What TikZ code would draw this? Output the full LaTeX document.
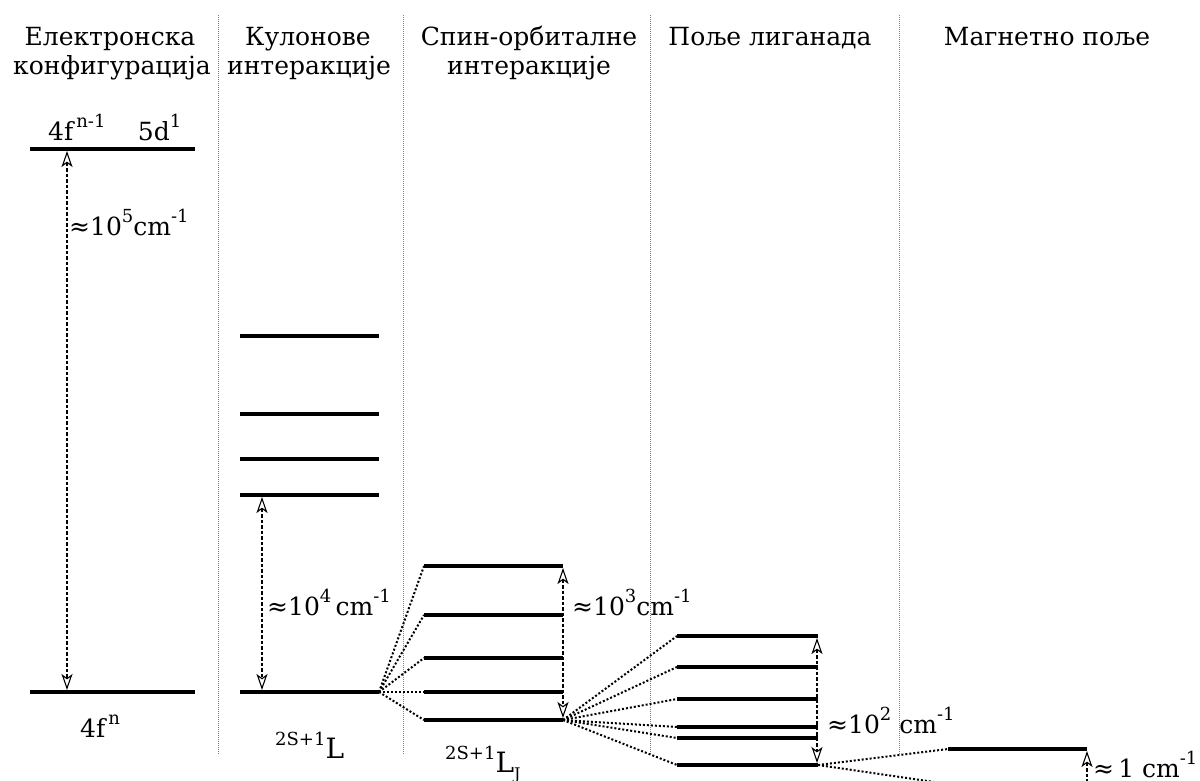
\documentclass[tikz,border=0pt]{standalone}
\usepackage{fontspec}
\setmainfont{DejaVu Serif}
\usetikzlibrary{arrows.meta}
\newcommand\su[1]{\raisebox{0.5em}{\fontsize{18}{18}\selectfont #1}}
\newcommand\lvl[4]{\coordinate (#1-l) at (#2,#4); \coordinate (#1-r) at (#3,#4); \draw[level] (#1-l) -- (#1-r);}
\tikzset{
  level/.style={line width=3.6pt},
  link/.style={line width=2pt, dash pattern=on 2pt off 2pt},
  sep/.style={gray, line width=0.7pt, dash pattern=on 1pt off 1pt},
  gap/.style={line width=1.6pt, dash pattern=on 3.5pt off 2pt,
    {Stealth[open,length=16pt,width=11pt,inset=4pt,line width=1.1pt]}-{Stealth[open,length=16pt,width=11pt,inset=4pt,line width=1.1pt]}},
  gapdown/.style={line width=1.6pt, dash pattern=on 3.5pt off 2pt,
    {Stealth[open,length=16pt,width=11pt,inset=4pt,line width=1.1pt]}-},
  head/.style={font=\fontsize{25}{29}\selectfont, align=center, inner sep=0pt},
  lab/.style={font=\fontsize{25}{25}\selectfont, inner sep=0pt, anchor=base west},
}
\begin{document}
\begin{tikzpicture}[x=1pt,y=-1pt]
\useasboundingbox (0,0) rectangle (1200,780);
\clip (0,0) rectangle (1200,780);
% separators
\foreach \n/\x in {s1/218,s2/403,s3/650,s4/899}{
  \coordinate (\n-t) at (\x,15); \coordinate (\n-b) at (\x,755);
  \draw[sep] (\n-t) -- (\n-b);}
% headers
\node[head, anchor=base] (h1a) at (110,45) {Електронска};
\node[head, anchor=base] (h1b) at (112,74) {конфигурација};
\node[head, anchor=base] (h2a) at (308,45) {Кулонове};
\node[head, anchor=base] (h2b) at (309,74) {интеракције};
\node[head, anchor=base] (h3a) at (529,45) {Спин-орбиталне};
\node[head, anchor=base] (h3b) at (529,74) {интеракције};
\node[head, anchor=base] (h4) at (770,45) {Поље лиганада};
\node[head, anchor=base] (h5) at (1047,45) {Магнетно поље};
% column 1
\lvl{a1}{30}{195}{149}
\lvl{a2}{30}{195}{692}
\coordinate (g1t) at (67,151); \coordinate (g1b) at (67,690);
\draw[gap] (g1t) -- (g1b);
\node[lab] (t1) at (48,140) {4f\su{\,n-1}\hspace{1.3em}5d\su{1}};
\node[lab] (t2) at (80,737) {4f\su{\,n}};
\node[lab] (t3) at (69,235) {≈10\su{5}cm\su{-1}};
% column 2
\lvl{b1}{240}{379}{336}
\lvl{b2}{240}{379}{414}
\lvl{b3}{240}{379}{459}
\lvl{b4}{240}{379}{495}
\lvl{b5}{240}{379}{692}
\coordinate (g2t) at (262,497); \coordinate (g2b) at (262,690);
\draw[gap] (g2t) -- (g2b);
\node[lab] (t4) at (267,615) {≈10\su{4}\,cm\su{-1}};
\node[lab] (t5) at (275,758) {\su{2S+1}{\fontsize{28}{28}\selectfont L}};
% column 3
\lvl{c1}{424}{563}{566}
\lvl{c2}{424}{563}{615}
\lvl{c3}{424}{563}{658}
\lvl{c4}{424}{563}{692}
\lvl{c5}{424}{563}{720}
\foreach \k in {c1,c2,c3,c4,c5}{\draw[link] (b5-r) -- (\k-l);}
\coordinate (g3t) at (563,568); \coordinate (g3b) at (563,718);
\draw[gap] (g3t) -- (g3b);
\node[lab] (t6) at (572,615) {≈10\su{3}cm\su{-1}};
\node[lab] (t7) at (445,772) {\su{2S+1}{\fontsize{28}{28}\selectfont L}\raisebox{-0.3em}{\fontsize{16}{16}\selectfont J}};
% column 4
\lvl{d1}{677}{818}{636}
\lvl{d2}{677}{818}{667}
\lvl{d3}{677}{818}{699}
\lvl{d4}{677}{818}{727}
\lvl{d5}{677}{818}{738}
\lvl{d6}{677}{818}{765}
\foreach \k in {d1,d2,d3,d4,d5,d6}{\draw[link] (c5-r) -- (\k-l);}
\coordinate (g4t) at (817,638); \coordinate (g4b) at (817,763);
\draw[gap] (g4t) -- (g4b);
\node[lab] (t8) at (827,733) {≈10\su{2} cm\su{-1}};
% column 5
\lvl{e1}{948}{1087}{749}
\coordinate (e2-l) at (948,784);
\draw[link] (d6-r) -- (e1-l);
\draw[link] (d6-r) -- (e2-l);
\coordinate (g5t) at (1087,751); \coordinate (g5b) at (1087,800);
\draw[gapdown] (g5t) -- (g5b);
\node[lab] (t9) at (1093,777) {≈\,1 cm\su{-1}};
\end{tikzpicture}
\end{document}
